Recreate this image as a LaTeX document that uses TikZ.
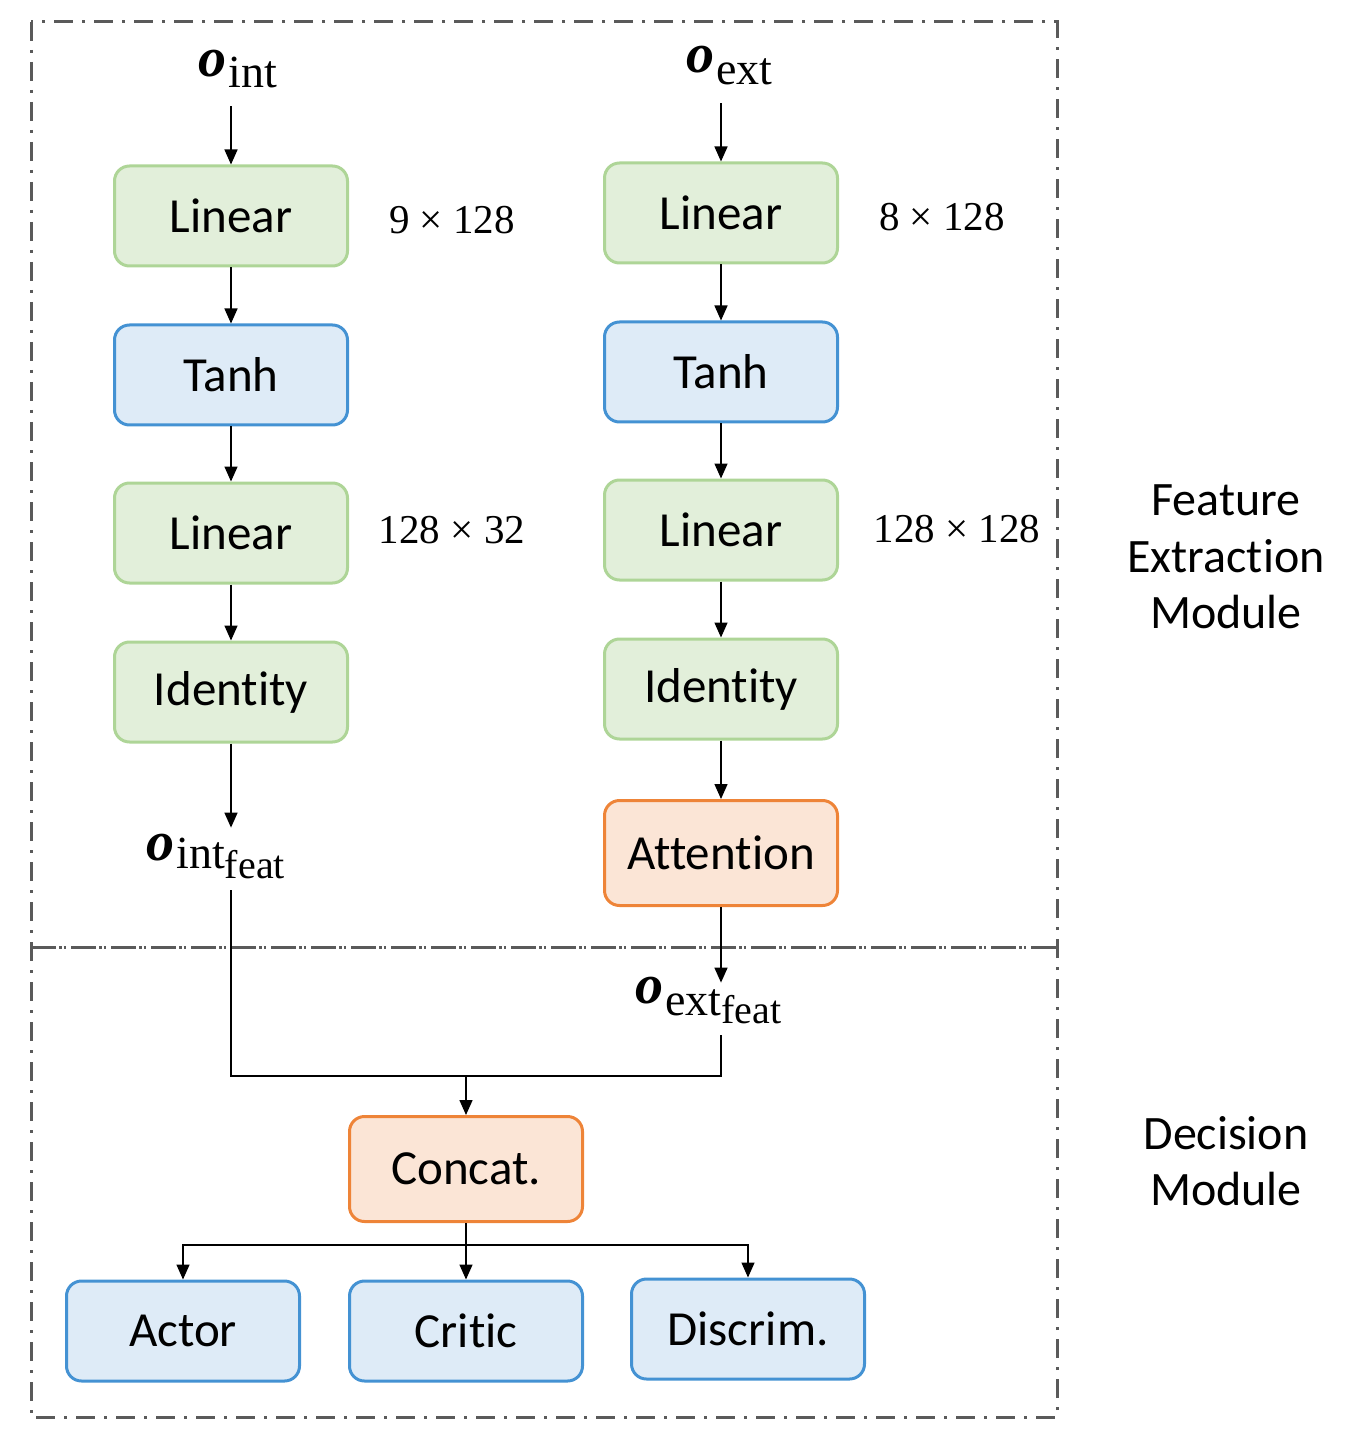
\documentclass[tikz,border=0pt]{standalone}
\usepackage{fontspec}
\setmainfont{Carlito}[Ligatures={NoCommon,NoContextual}]
\newfontfamily\serf{Liberation Serif}
\usetikzlibrary{arrows.meta}
\definecolor{gfill}{HTML}{E2EFDA}
\definecolor{gbord}{HTML}{AED597}
\definecolor{bfill}{HTML}{DEEBF7}
\definecolor{bbord}{HTML}{4492D3}
\definecolor{ofill}{HTML}{FBE5D6}
\definecolor{obord}{HTML}{EE8438}
\definecolor{frm}{HTML}{5A5A5A}
\newcommand\ob{{\serf\fontsize{28}{28}\selectfont\bfseries\itshape o}}
\newcommand\subf{\serf\fontsize{23}{23}\selectfont}
\newcommand\subsubf{\serf\fontsize{20}{20}\selectfont}
\begin{document}
\begin{tikzpicture}[x=0.5pt,y=-0.5pt,
  box/.style={draw, line width=1.5pt, rounded corners=7.5pt, minimum width=116.5pt,
    minimum height=50pt, inner sep=0pt, font=\fontsize{24.5}{28}\selectfont},
  gbox/.style={box, draw=gbord, fill=gfill},
  bbox/.style={box, draw=bbord, fill=bfill},
  obox/.style={box, draw=obord, fill=ofill},
  lbl/.style={inner sep=0pt, anchor=base west},
  dimlbl/.style={inner sep=0pt, font=\serf\fontsize{20.5}{20}\selectfont},
  side/.style={inner sep=0pt, align=center, font=\fontsize{24}{28.2}\selectfont},
  conn/.style={line width=0.75pt, black},
  arr/.style={conn, -{Triangle[length=7.5pt, width=6.5pt]}},
  frame/.style={draw=frm, line width=1.5pt, dash pattern=on 9.5pt off 4.5pt on 1.5pt off 4.5pt},
  divider/.style={draw=frm, line width=1.5pt, dash pattern=on 12.5pt off 1.5pt on 1.3pt off 1pt on 1.3pt off 2.4pt}
]
\useasboundingbox (0,0) rectangle (1350,1438);

% frames
\draw[frame] (31,22) rectangle (1057,1417);
\draw[divider] (31,947) -- (1057,947);

% left column
\node[lbl, text height=15pt, text depth=14.5pt] (oint) at (198,77) {\ob\hspace{1pt}\raisebox{-5.5pt}{\subf int}};
\node[gbox] (lin1) at (231,216) {Linear};
\node[bbox] (tanh1) at (231,375) {Tanh};
\node[gbox] (lin2) at (231,533) {Linear};
\node[gbox] (id1) at (231,692) {Identity};
\node[lbl, text height=16pt, text depth=15pt] (ointf) at (146,860) {\ob\hspace{1pt}\raisebox{-4pt}{\subf int\raisebox{-5pt}{\subsubf feat}}};

\node[dimlbl] (d1) at (452,220) {9 × 128};
\node[dimlbl] (d2) at (452,530) {128 × 32};

% right column
\node[lbl, text height=15pt, text depth=15pt] (oext) at (686,73) {\ob\hspace{1pt}\raisebox{-6pt}{\subf ext}};
\node[gbox] (lin1b) at (721,213) {Linear};
\node[bbox] (tanh2) at (721,372) {Tanh};
\node[gbox] (lin2b) at (721,530) {Linear};
\node[gbox] (id2) at (721,689) {Identity};
\node[obox, minimum height=52.5pt] (att) at (721,853) {Attention};
\node[lbl, text height=10pt, text depth=16pt] (oextf) at (635,1003) {\ob\hspace{1pt}\raisebox{-6pt}{\subf ext\raisebox{-4pt}{\subsubf feat}}};

\node[dimlbl] (d3) at (942,217) {8 × 128};
\node[dimlbl] (d4) at (957,529) {128 × 128};

% decision
\node[obox, minimum height=52.5pt] (concat) at (466,1169) {Concat.};
\node[bbox] (actor) at (183,1331) {Actor};
\node[bbox] (critic) at (466,1331) {Critic};
\node[bbox] (discrim) at (748,1329) {Discrim.};

% side labels
\node[side] (fem) at (1226,557) {Feature\\Extraction\\Module};
\node[side] (dm) at (1226,1161) {Decision\\Module};

% connectors left
\draw[arr] (oint.south -| lin1) -- (lin1);
\draw[arr] (lin1) -- (tanh1);
\draw[arr] (tanh1) -- (lin2);
\draw[arr] (lin2) -- (id1);
\draw[arr] (id1) -- (id1 |- ointf.north);

% connectors right
\draw[arr] (oext.south -| lin1b) -- (lin1b);
\draw[arr] (lin1b) -- (tanh2);
\draw[arr] (tanh2) -- (lin2b);
\draw[arr] (lin2b) -- (id2);
\draw[arr] (id2) -- (att);
\draw[arr] (att) -- (att |- oextf.north);

% merge
\coordinate (j) at (466,1076);
\draw[conn] (id1 |- ointf.south) |- (j);
\draw[conn] (att |- oextf.south) |- (j);
\draw[arr] (j) -- (concat);

% branch
\coordinate (b) at (466,1245);
\draw[conn] (concat) -- (b);
\draw[arr] (b) -| (actor);
\draw[arr] (b) -- (critic);
\draw[arr] (b) -| (discrim);
\end{tikzpicture}
\end{document}
